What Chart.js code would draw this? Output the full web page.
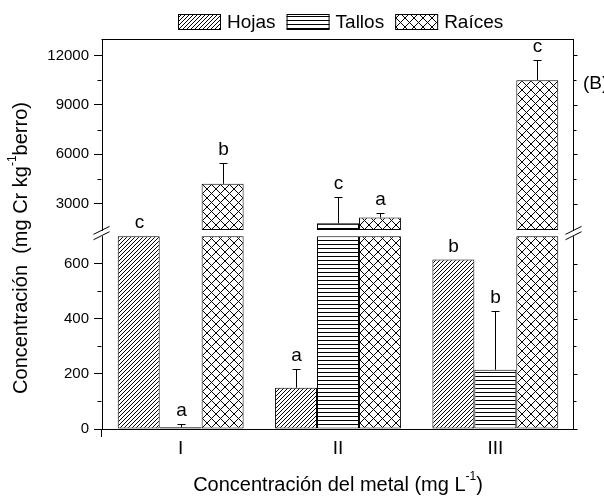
<!DOCTYPE html>
<html><head><meta charset="utf-8">
<script src="https://cdn.jsdelivr.net/npm/chart.js@4/dist/chart.umd.min.js"></script>
<style>html,body{margin:0;padding:0;background:#fff;}#wrap{width:604px;height:496px;}</style>
</head><body><div id="wrap"><canvas id="c" width="604" height="496"></canvas></div>
<script>
// ---- data ----
const categories = ['I', 'II', 'III'];
const seriesNames = ['Hojas', 'Tallos', 'Raíces'];
const hojas = [1200, 150, 615];
const tallos = [6, 1800, 215];
const raices = [4200, 2150, 10500];
const hojasErr = [0, 68, 0];
const tallosErr = [12, 1620, 212];
const raicesErr = [1240, 260, 1250];
const hojasLetters = ['c', 'a', 'b'];
const tallosLetters = ['a', 'c', 'b'];
const raicesLetters = ['b', 'a', 'c'];
const upperTicks = [3000, 4500, 6000, 7500, 9000, 10500, 12000];
const upperLabels = ['3000', '', '6000', '', '9000', '', '12000'];
const lowerTicks = [0, 100, 200, 300, 400, 500, 600];
const lowerLabels = ['0', '', '200', '', '400', '', '600'];
const breakLow = 700;
const breakHigh = 1400;
const xTitle = ['Concentración del metal (mg L', '-1', ')'];
const yTitle = ['Concentración  (mg Cr kg', '-1', 'berro)'];
const panelTag = '(B)';

// ---- styling ----
const FONT = 'Liberation Sans, Arial, sans-serif';
Chart.defaults.font.family = FONT;
Chart.defaults.color = '#000';

const canvas = document.getElementById('c');
const ctx0 = canvas.getContext('2d');
function makePattern(w, h, pix) {
  const c = document.createElement('canvas');
  c.width = w; c.height = h;
  const g = c.getContext('2d');
  g.fillStyle = '#fff'; g.fillRect(0, 0, w, h);
  g.fillStyle = '#000';
  pix.forEach(p => g.fillRect(p[0], p[1], 1, 1));
  return ctx0.createPattern(c, 'repeat');
}
const diagPix = []; for (let i = 0; i < 4; i++) diagPix.push([i, 3 - i]);
const horPix = []; for (let i = 0; i < 4; i++) horPix.push([i, 0]);
const crossPix = []; for (let i = 0; i < 9; i++) { crossPix.push([i, i]); crossPix.push([i, 8 - i]); }
const patterns = [makePattern(4, 4, diagPix), makePattern(4, 4, horPix), makePattern(9, 9, crossPix)];

const seriesVals = [hojas, tallos, raices];
const seriesErr = [hojasErr, tallosErr, raicesErr];
const seriesLet = [hojasLetters, tallosLetters, raicesLetters];

const datasets = [];
seriesVals.forEach((vals, i) => {
  datasets.push({
    label: seriesNames[i], yAxisID: 'yLow', stack: 's' + i,
    data: vals.map(v => [0, Math.min(v, breakLow)]),
    backgroundColor: patterns[i], borderColor: '#000', borderWidth: 1, borderSkipped: false
  });
});
seriesVals.forEach((vals, i) => {
  datasets.push({
    label: seriesNames[i] + ' (alto)', yAxisID: 'yHigh', stack: 's' + i,
    data: vals.map(v => v > breakHigh ? [breakHigh, v] : null),
    backgroundColor: patterns[i], borderColor: '#000', borderWidth: 1, borderSkipped: false
  });
});

function yOf(chart, v) {
  const lo = chart.scales.yLow, hi = chart.scales.yHigh;
  if (v >= breakHigh) return hi.getPixelForValue(v);
  if (v <= breakLow) return lo.getPixelForValue(v);
  return null;
}

const decor = {
  id: 'decor',
  afterDraw(chart) {
    const ctx = chart.ctx;
    const ca = chart.chartArea;
    const lo = chart.scales.yLow, hi = chart.scales.yHigh;
    const gapTop = hi.getPixelForValue(breakHigh);
    const gapBot = lo.getPixelForValue(breakLow);
    ctx.save();
    // white-out left axis in the break gap
    ctx.fillStyle = '#fff';
    ctx.fillRect(ca.left - 2, gapTop + 1, 4, gapBot - gapTop - 1);
    ctx.strokeStyle = '#000';
    ctx.lineWidth = 1;
    const L = Math.round(ca.left) - 0.5, R = Math.round(ca.right) - 0.5;
    // top frame and right axis
    ctx.beginPath();
    ctx.moveTo(L, Math.round(ca.top) + 0.5); ctx.lineTo(R + 0.5, Math.round(ca.top) + 0.5);
    ctx.moveTo(R, Math.round(ca.top)); ctx.lineTo(R, gapTop + 1);
    ctx.moveTo(R, gapBot); ctx.lineTo(R, ca.bottom);
    // left axis extension below x axis
    ctx.moveTo(L, ca.bottom); ctx.lineTo(L, ca.bottom + 8);
    ctx.stroke();
    // minor ticks left and all ticks right
    ctx.beginPath();
    const tickSets = [[hi, upperTicks, upperLabels], [lo, lowerTicks, lowerLabels]];
    tickSets.forEach(([sc, tv, tl]) => {
      tv.forEach((v, k) => {
        const y = Math.round(sc.getPixelForValue(v)) + 0.5;
        if (tl[k] === '') { ctx.moveTo(L - 4, y); ctx.lineTo(L, y); }
        ctx.moveTo(R, y); ctx.lineTo(R + (tl[k] === '' ? 3 : 4), y);
      });
    });
    ctx.stroke();
    // break marks
    ctx.beginPath();
    [L, R].forEach(x => {
      [gapTop + 0.5, gapBot - 0.5].forEach(y => {
        ctx.moveTo(x - 8, y + 4); ctx.lineTo(x + 8, y - 4);
      });
    });
    ctx.stroke();
    // error bars and letters
    ctx.font = '19px ' + FONT;
    ctx.textAlign = 'center';
    ctx.textBaseline = 'alphabetic';
    ctx.fillStyle = '#000';
    seriesVals.forEach((vals, i) => {
      const meta = chart.getDatasetMeta(i);
      vals.forEach((v, j) => {
        const x = Math.round(meta.data[j].x) + 0.5;
        const e = seriesErr[i][j];
        const top = v + e;
        if (e > 0) {
          ctx.beginPath();
          const segs = [];
          if (v >= breakHigh) segs.push([v, top]);
          else if (top <= breakLow) segs.push([v, top]);
          else {
            if (v < breakLow) segs.push([v, breakLow]);
            if (top > breakHigh) segs.push([breakHigh, top]);
          }
          segs.forEach(s => {
            const y1 = yOf(chart, s[0]), y2 = Math.round(yOf(chart, s[1])) + 0.5;
            ctx.moveTo(x, y1); ctx.lineTo(x, y2);
          });
          if (top <= breakLow || top >= breakHigh) {
            const yc = Math.round(yOf(chart, top)) + 0.5;
            ctx.moveTo(x - 4, yc); ctx.lineTo(x + 4, yc);
          }
          ctx.stroke();
        }
        let refY = yOf(chart, top);
        if (refY === null) refY = gapBot;
        ctx.fillText(seriesLet[i][j], x, refY - 8);
      });
    });
    // legend
    ctx.font = '19px ' + FONT;
    ctx.textAlign = 'left';
    ctx.textBaseline = 'middle';
    const bw = 43, bh = 16, gap = 6, sp = 11;
    const widths = seriesNames.map(n => bw + gap + ctx.measureText(n).width);
    const total = widths.reduce((a, b) => a + b, 0) + sp * (seriesNames.length - 1);
    let lx = Math.round((ca.left + ca.right) / 2 + 3 - total / 2);
    const ly = 14;
    seriesNames.forEach((n, i) => {
      ctx.fillStyle = patterns[i];
      ctx.fillRect(lx, ly, bw, bh);
      ctx.strokeStyle = '#000';
      ctx.strokeRect(lx + 0.5, ly + 0.5, bw - 1, bh - 1);
      ctx.fillStyle = '#000';
      ctx.fillText(n, lx + bw + gap, ly + bh / 2 + 1);
      lx += widths[i] + sp;
    });
    // axis titles with superscripts
    function drawSup(parts, cx, cy) {
      const big = '20px ' + FONT, small = '12px ' + FONT;
      ctx.font = big; const w0 = ctx.measureText(parts[0]).width; const w2 = ctx.measureText(parts[2]).width;
      ctx.font = small; const w1 = ctx.measureText(parts[1]).width;
      let x = cx - (w0 + w1 + w2) / 2;
      ctx.textAlign = 'left'; ctx.textBaseline = 'middle';
      ctx.font = big; ctx.fillText(parts[0], x, cy); x += w0;
      ctx.font = small; ctx.fillText(parts[1], x, cy - 8); x += w1;
      ctx.font = big; ctx.fillText(parts[2], x, cy);
    }
    drawSup(xTitle, (ca.left + ca.right) / 2, 485);
    ctx.save();
    ctx.translate(21, 248);
    ctx.rotate(-Math.PI / 2);
    drawSup(yTitle, 0, 0);
    ctx.restore();
    // panel tag
    ctx.font = '19px ' + FONT;
    ctx.textAlign = 'left'; ctx.textBaseline = 'middle';
    ctx.fillText(panelTag, 583, 84);
    ctx.restore();
  }
};

function yScale(min, max, tv, tl) {
  return {
    type: 'linear', position: 'left', stack: 'v', stackWeight: 1, stacked: false,
    min: min, max: max,
    afterBuildTicks: sc => { sc.ticks = tv.map(v => ({ value: v })); },
    afterFit: sc => { sc.width = 102; },
    ticks: {
      autoSkip: false, padding: 5, font: { size: 15 }, color: '#000',
      callback: v => { const k = tv.indexOf(v); return k >= 0 ? tl[k] : ''; }
    },
    grid: {
      drawOnChartArea: false, drawTicks: true, tickLength: 8, tickWidth: 1,
      tickColor: c => (c.tick && tl[tv.indexOf(c.tick.value)] !== '') ? '#000' : 'rgba(0,0,0,0)'
    },
    border: { display: true, color: '#000', width: 1 }
  };
}

new Chart(canvas, {
  type: 'bar',
  data: { labels: categories, datasets: datasets },
  options: {
    responsive: false, animation: false,
    devicePixelRatio: 1,
    layout: { padding: { top: 39, right: 30, left: 0, bottom: 0 } },
    datasets: { bar: { barPercentage: 1.0, categoryPercentage: 0.8 } },
    plugins: { legend: { display: false }, tooltip: { enabled: false } },
    scales: {
      x: {
        grid: { display: false, drawTicks: false },
        border: { display: true, color: '#000', width: 1 },
        ticks: { font: { size: 19 }, color: '#000', padding: 8 },
        afterFit: sc => { sc.height = 67; }
      },
      yLow: yScale(0, 708, lowerTicks, lowerLabels),
      yHigh: yScale(1150, 13000, upperTicks, upperLabels)
    }
  },
  plugins: [decor]
});
</script></body></html>
